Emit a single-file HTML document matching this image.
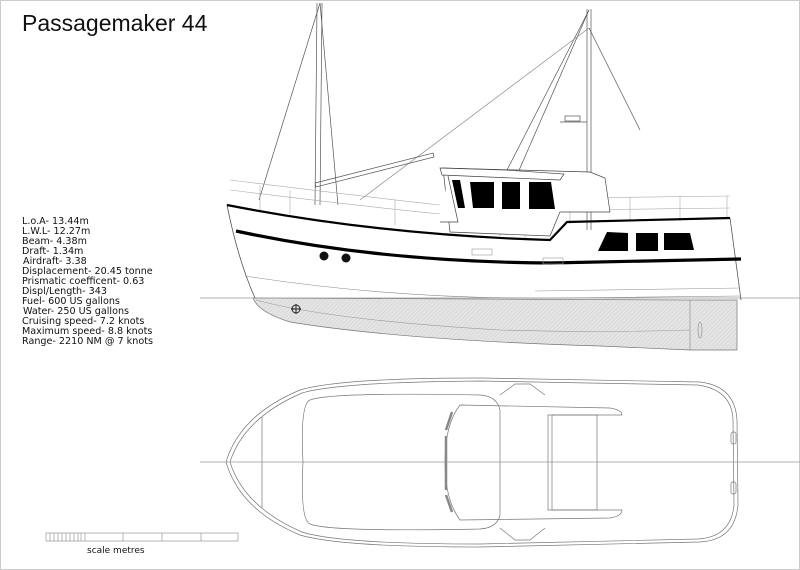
<!DOCTYPE html>
<html><head><meta charset="utf-8"><style>
html,body{margin:0;padding:0;background:#fff}
svg{display:block}
text{font-family:"DejaVu Sans","Liberation Sans",sans-serif;fill:#111}
</style></head><body>
<svg width="800" height="570" viewBox="0 0 800 570" xmlns="http://www.w3.org/2000/svg">
<defs>
<pattern id="h" width="3" height="3" patternUnits="userSpaceOnUse" patternTransform="rotate(45)">
<rect width="3" height="3" fill="#e4e4e4"/><line x1="0" y1="0" x2="0" y2="3" stroke="#cfcfcf" stroke-width="1"/>
</pattern>
</defs>
<rect x="0.5" y="0.5" width="799" height="569" fill="none" stroke="#ccc"/>
<text x="22" y="31" font-size="23" style="font-family:'Liberation Sans',sans-serif">Passagemaker 44</text>
<g font-size="9.6">
<text x="22" y="224">L.o.A- 13.44m</text>
<text x="22" y="234">L.W.L- 12.27m</text>
<text x="22" y="244">Beam- 4.38m</text>
<text x="22" y="254">Draft- 1.34m</text>
<text x="23" y="264">Airdraft- 3.38</text>
<text x="22" y="274">Displacement- 20.45 tonne</text>
<text x="22" y="284">Prismatic coefficent- 0.63</text>
<text x="22" y="294">Displ/Length- 343</text>
<text x="22" y="304">Fuel- 600 US gallons</text>
<text x="23" y="314">Water- 250 US gallons</text>
<text x="22" y="324">Cruising speed- 7.2 knots</text>
<text x="22" y="334">Maximum speed- 8.8 knots</text>
<text x="22" y="344">Range- 2210 NM @ 7 knots</text>
</g>

<path d="M253,298 Q258,312 290,322 Q400,340 600,346 L690,350 L737,350 L737,300 L690,300 Z" fill="url(#h)" stroke="#777" stroke-width="0.7"/>
<path d="M256,300 Q330,320 500,330 Q600,333 690,330" fill="none" stroke="#999" stroke-width="0.6"/>
<line x1="690" y1="300" x2="690" y2="350" stroke="#888" stroke-width="0.6"/>
<ellipse cx="700" cy="330" rx="2" ry="8" fill="none" stroke="#888" stroke-width="0.6"/>
<line x1="200" y1="298" x2="800" y2="298" stroke="#999" stroke-width="0.7"/>
<g fill="none" stroke="#222" stroke-width="1">
<line x1="291" y1="309" x2="301" y2="309"/><line x1="296" y1="304" x2="296" y2="314"/>
</g>
<circle cx="296" cy="309" r="4" fill="none" stroke="#222"/>

<g stroke="#555" stroke-width="0.7" fill="none">
<line x1="317" y1="3" x2="315" y2="205"/><line x1="322" y1="3" x2="320" y2="205"/>
<line x1="320" y1="3" x2="259" y2="200"/><line x1="320" y1="3" x2="338" y2="205"/>
<line x1="587" y1="9" x2="587" y2="230"/><line x1="591" y1="9" x2="591" y2="230"/>
<line x1="589" y1="10" x2="505" y2="174"/><line x1="589" y1="10" x2="517" y2="175"/>
<line x1="589" y1="28" x2="640" y2="130"/>
<line x1="589" y1="28" x2="360" y2="200" stroke="#888"/>
<path d="M315,183 L433,153 L434,157 L316,187 Z"/>
<rect x="565" y="116" width="15" height="5"/><line x1="560" y1="122" x2="587" y2="122"/>
</g>
<g stroke="#aaa" stroke-width="0.6" fill="none">
<path d="M230,180 Q350,195 440,205"/><path d="M230,190 Q350,205 440,214"/>
<line x1="260" y1="185" x2="260" y2="210"/><line x1="290" y1="190" x2="290" y2="214"/><line x1="395" y1="200" x2="395" y2="225"/>
<path d="M570,198 L730,196"/><path d="M570,210 L730,208"/>
<line x1="570" y1="198" x2="570" y2="224"/><line x1="630" y1="197" x2="630" y2="222"/><line x1="680" y1="196" x2="680" y2="221"/><line x1="727" y1="196" x2="727" y2="218"/>
<line x1="500" y1="212" x2="500" y2="236"/><line x1="525" y1="210" x2="525" y2="238"/>
</g>
<g stroke="#444" stroke-width="0.7" fill="#fff">
<path d="M443,168 L590,172 L605,178 L610,212 L560,212 L550,236 L450,232 Z"/>
<path d="M440,168 L505,170 L564,174 L560,180 L442,175 Z"/>
<path d="M448,176 L458,222 L440,222"/>
</g>
<g fill="#000">
<path d="M452,180 L460,180 L465,208 L458,208 Z"/>
<path d="M470,182 L494,182 L494,208 L473,208 Z"/>
<rect x="502" y="182" width="18" height="27"/>
<path d="M529,182 L551,182 L555,209 L529,209 Z"/>
<path d="M607,232 L628,233 L628,251 L598,251 Z"/>
<rect x="636" y="233" width="22" height="18"/>
<path d="M664,233 L690,233 L694,250 L664,250 Z"/>
</g>
<path d="M227,205 Q238,260 255,298" fill="none" stroke="#555" stroke-width="0.8"/>
<path d="M730,218 L741,300" fill="none" stroke="#555" stroke-width="0.8"/>
<path d="M245,276 Q400,300 560,298 L740,296" fill="none" stroke="#888" stroke-width="0.6"/>
<path d="M535,291 L740,288" fill="none" stroke="#999" stroke-width="0.6"/>
<path d="M227,205 Q380,235 550,240 L567,222 L730,218" fill="none" stroke="#000" stroke-width="2.2"/>
<path d="M236,231 Q380,262 550,263 L741,259" fill="none" stroke="#000" stroke-width="3.2"/>
<circle cx="324" cy="256" r="4.5" fill="#111"/><circle cx="346" cy="258" r="4.5" fill="#111"/>
<rect x="472" y="249" width="20" height="6" fill="none" stroke="#999" stroke-width="0.6"/>
<rect x="543" y="258" width="20" height="6" fill="none" stroke="#999" stroke-width="0.6"/>

<g fill="none" stroke="#777" stroke-width="0.7">
<path d="M226,462 Q240,415 300,390 Q340,378 480,378 L700,382 Q735,386 737,420 L738,505 Q735,540 700,542 L480,547 Q340,547 300,535 Q240,510 226,462 Z"/>
<path d="M230,462 Q244,418 302,393 Q340,382 480,381 L698,385 Q732,390 733,420 L734,505 Q731,537 698,539 L480,544 Q340,544 302,532 Q244,507 230,462 Z"/>
<path d="M262,417 L262,508"/>
<path d="M310,400 Q330,392 480,395 Q497,396 500,410 L500,515 Q497,528 480,529 Q330,532 310,524 Q300,520 303,462 Q300,404 310,400 Z"/>
<path d="M460,405 L610,408 Q622,410 622,415 L548,415 L548,510 L622,510 Q622,516 610,518 L460,520 Q445,500 445,462 Q445,424 460,405 Z"/>
<path d="M500,395 L515,384 L530,384 L545,395"/><path d="M500,528 L515,540 L530,540 L545,528"/>
<rect x="552" y="415" width="45" height="95"/>
<path d="M452,412 L446,430 M446,436 L446,490 M446,495 L452,512" stroke-width="2.5" stroke="#888"/>
<rect x="731" y="432" width="5" height="12" rx="2"/><rect x="731" y="482" width="5" height="12" rx="2"/>
</g>
<line x1="200" y1="462" x2="800" y2="462" stroke="#999" stroke-width="0.7"/>

<g fill="none" stroke="#888" stroke-width="0.6">
<rect x="46" y="533" width="192" height="8"/>
<line x1="85" y1="533" x2="85" y2="541"/><line x1="123" y1="533" x2="123" y2="541"/>
<line x1="162" y1="533" x2="162" y2="541"/><line x1="201" y1="533" x2="201" y2="541"/>
<path d="M50,533v8M54,533v8M58,533v8M62,533v8M66,533v8M70,533v8M74,533v8M78,533v8M81,533v8"/>
</g>
<text x="87" y="553" font-size="9">scale metres</text>
</svg>
</body></html>
